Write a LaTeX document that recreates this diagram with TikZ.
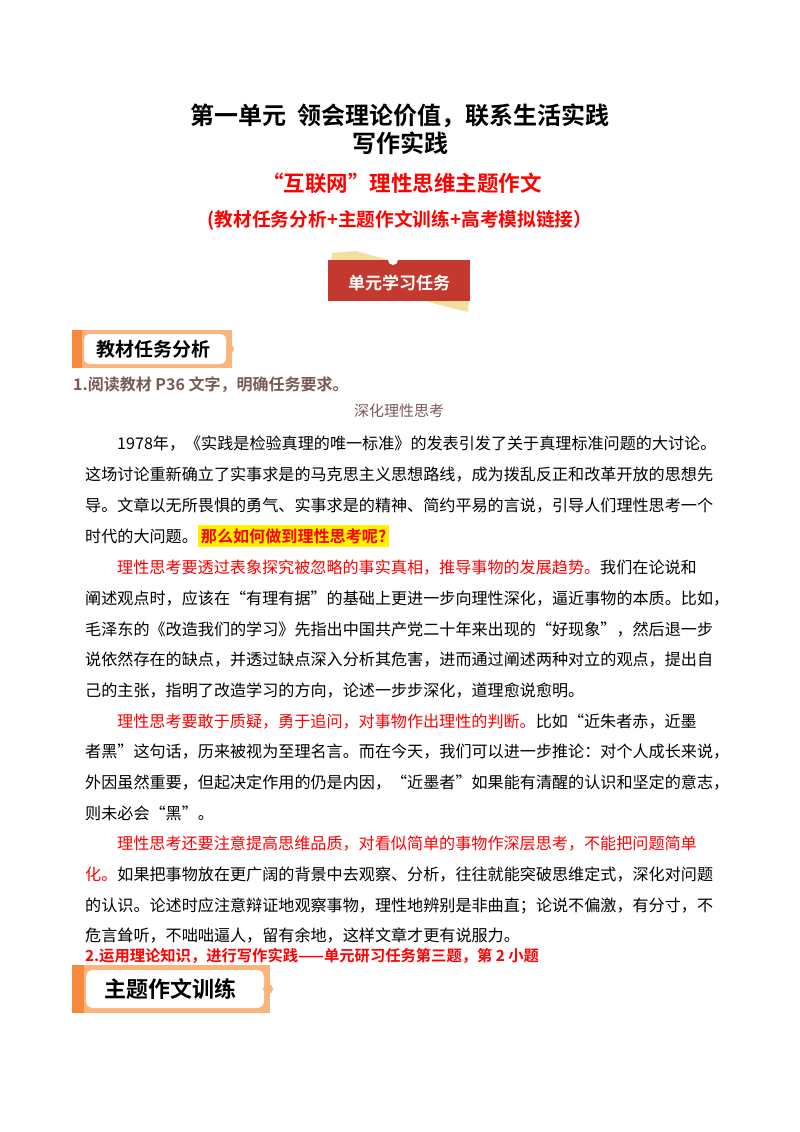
\documentclass[tikz,border=0pt]{standalone}
\usepackage{fontspec}
\setmainfont{Noto Sans CJK SC}
\newfontfamily\hei{Noto Sans CJK SC Bold}
\begin{document}
\begin{tikzpicture}[x=1pt,y=-1pt,
 body/.style={anchor=base west,inner sep=0,font=\fontsize{16.1}{16}\selectfont},
 ttl/.style={anchor=base,inner sep=0,font=\hei\fontsize{24}{25}\selectfont}]
\definecolor{bn}{HTML}{C4392F}\definecolor{tape}{HTML}{F3DFA0}
\definecolor{org}{HTML}{F58A3C}\definecolor{org2}{HTML}{FBB47C}\definecolor{brn}{HTML}{7A5A55}
\useasboundingbox (0,0) rectangle (800,1132);
\fill[white] (0,0) rectangle (800,1132);
\node[ttl] (t1) at (400,124) {第一单元\ \ 领会理论价值，联系生活实践};
\node[ttl] (t2) at (400,152) {写作实践};
\node[ttl,text=red,font=\hei\fontsize{21.5}{22}\selectfont] (t3) at (402,191) {“互联网”理性思维主题作文};
\node[ttl,text=red,font=\hei\fontsize{18.7}{19}\selectfont] (t4) at (400,226) {(教材任务分析+主题作文训练+高考模拟链接）};
% unit banner
\fill[tape] (332,253) -- (356,251) -- (470,283) -- (468,312) -- (447,307) -- (330,275) -- cycle;
\fill[bn] (328,260) rectangle (470,301);
\fill[white] (393,260) circle (5);
\node[anchor=center,text=white,font=\hei\fontsize{17}{18}\selectfont] (ub) at (399,283) {单元学习任务};
% section banner 1
\fill[org2] (72,330) rectangle (232,368);
\fill[org] (72,330) rectangle (82,368);
\fill[white,rounded corners=6] (84,334) rectangle (226,364);
\fill[org2] (230,349) circle (4);
\node[anchor=center,font=\hei\fontsize{19}{20}\selectfont] (s1) at (153,349) {教材任务分析};
\node[anchor=base west,inner sep=0,text=brn,font=\hei\fontsize{16}{16}\selectfont] (h1) at (73,390) {1.阅读教材 P36 文字，明确任务要求。};
\node[anchor=base,inner sep=0,text=brn,font=\fontsize{15}{15}\selectfont] (sub) at (399,416) {深化理性思考};
\node[body] (l1) at (117,449) {1978年，《实践是检验真理的唯一标准》的发表引发了关于真理标准问题的大讨论。};
\node[body] (l2) at (85,480) {这场讨论重新确立了实事求是的马克思主义思想路线，成为拨乱反正和改革开放的思想先};
\node[body] (l3) at (85,511) {导。文章以无所畏惧的勇气、实事求是的精神、简约平易的言说，引导人们理性思考一个};
\node[body] (l4) at (85,542) {时代的大问题。\colorbox{yellow}{\hei\textcolor{red}{那么如何做到理性思考呢?}}};
\node[body] (l5) at (117,573) {\textcolor{red}{理性思考要透过表象探究被忽略的事实真相，推导事物的发展趋势。}我们在论说和};
\node[body] (l6) at (85,604) {阐述观点时，应该在“有理有据”的基础上更进一步向理性深化，逼近事物的本质。比如，};
\node[body] (l7) at (85,635) {毛泽东的《改造我们的学习》先指出中国共产党二十年来出现的“好现象”，然后退一步};
\node[body] (l8) at (85,665) {说依然存在的缺点，并透过缺点深入分析其危害，进而通过阐述两种对立的观点，提出自};
\node[body] (l9) at (85,696) {己的主张，指明了改造学习的方向，论述一步步深化，道理愈说愈明。};
\node[body] (l10) at (117,727) {\textcolor{red}{理性思考要敢于质疑，勇于追问，对事物作出理性的判断。}比如“近朱者赤，近墨};
\node[body] (l11) at (85,757) {者黑”这句话，历来被视为至理名言。而在今天，我们可以进一步推论：对个人成长来说，};
\node[body] (l12) at (85,788) {外因虽然重要，但起决定作用的仍是内因，“近墨者”如果能有清醒的认识和坚定的意志，};
\node[body] (l13) at (85,819) {则未必会“黑”。};
\node[body] (l14) at (117,849) {\textcolor{red}{理性思考还要注意提高思维品质，对看似简单的事物作深层思考，不能把问题简单}};
\node[body] (l15) at (85,880) {\textcolor{red}{化。}如果把事物放在更广阔的背景中去观察、分析，往往就能突破思维定式，深化对问题};
\node[body] (l16) at (85,911) {的认识。论述时应注意辩证地观察事物，理性地辨别是非曲直；论说不偏激，有分寸，不};
\node[body] (l17) at (85,941) {危言耸听，不咄咄逼人，留有余地，这样文章才更有说服力。};
\node[anchor=base west,inner sep=0,text=red,font=\hei\fontsize{15.3}{16}\selectfont] (h2) at (85,961) {2.运用理论知识，进行写作实践——单元研习任务第三题，第 2 小题};
% section banner 2
\fill[org2] (72,965) rectangle (270,1013);
\fill[org] (72,965) rectangle (84,1013);
\fill[white,rounded corners=7] (86,970) rectangle (264,1008);
\fill[org2] (268,989) circle (5);
\node[anchor=center,font=\hei\fontsize{22}{23}\selectfont] (s2) at (170,989) {主题作文训练};
\end{tikzpicture}
\end{document}
